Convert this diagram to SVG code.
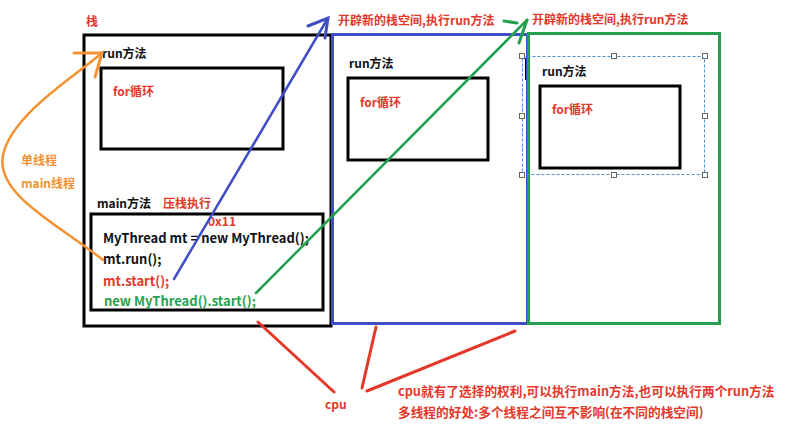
<svg xmlns="http://www.w3.org/2000/svg" width="785" height="426" viewBox="0 0 785 426">
<style>
text{font-family:"Noto Sans CJK SC","Liberation Sans",sans-serif;font-weight:bold;}
.lbl{font-size:12px;fill:#111;}
.code{font-size:13px;fill:#111;}
.red{fill:#e5382b;}
.org{fill:#f39232;}
.grn{fill:#27a350;}
.box{fill:none;stroke:#000;stroke-width:3;}
.h{fill:#fff;stroke:#666;stroke-width:1;}
</style>
<rect width="785" height="426" fill="#fff"/>
<g id="main-stack">
<rect class="box" x="84" y="35" width="247" height="291"/>
<text class="lbl red" x="86" y="26">栈</text>
<text class="lbl" x="102" y="58">run方法</text>
<rect class="box" x="101" y="68" width="182" height="81"/>
<text class="lbl red" x="113" y="96">for循环</text>
<text class="lbl" x="97" y="208">main方法</text>
<text class="lbl red" x="163" y="208">压栈执行</text>
<rect class="box" x="91" y="214" width="232" height="96"/>
<text class="code" x="103" y="243">MyThread mt = new MyThread();</text>
<text class="code" x="103" y="264">mt.run();</text>
<text class="code red" x="103" y="286">mt.start();</text>
<text class="code grn" x="104" y="306">new MyThread().start();</text>
<text class="lbl red" x="208" y="226">0x11</text>
</g>
<g id="blue-stack">
<rect x="332.5" y="34.5" width="195" height="289" fill="none" stroke="#3f4ec4" stroke-width="3"/>
<text class="lbl" x="349" y="68">run方法</text>
<rect class="box" x="348" y="78" width="140" height="82"/>
<text class="lbl red" x="360" y="107">for循环</text>
<text class="lbl red" x="338" y="25">开辟新的栈空间,执行run方法</text>
</g>
<g id="green-stack">
<rect x="528.5" y="33.5" width="191" height="290" fill="none" stroke="#22a04e" stroke-width="3"/>
<rect x="522.5" y="56.5" width="182" height="118" fill="none" stroke="#4f8fcf" stroke-width="1" stroke-dasharray="3,2"/>
<rect class="h" x="519.5" y="53.5" width="5" height="5"/>
<rect class="h" x="611.5" y="53.5" width="5" height="5"/>
<rect class="h" x="702.5" y="53.5" width="5" height="5"/>
<rect class="h" x="519.5" y="113.5" width="5" height="5"/>
<rect class="h" x="702.5" y="113.5" width="5" height="5"/>
<rect class="h" x="519.5" y="172.5" width="5" height="5"/>
<rect class="h" x="611.5" y="172.5" width="5" height="5"/>
<rect class="h" x="702.5" y="172.5" width="5" height="5"/>
<line x1="525.5" y1="58" x2="525.5" y2="80" stroke="#000" stroke-width="1"/>
<text class="lbl" x="542" y="76">run方法</text>
<rect class="box" x="540" y="86" width="140" height="82"/>
<text class="lbl red" x="552" y="114">for循环</text>
<text class="lbl red" x="532" y="24">开辟新的栈空间,执行run方法</text>
</g>
<g id="labels">
<text class="lbl org" x="21" y="165">单线程</text>
<text class="lbl org" x="21" y="188">main线程</text>
<text class="lbl red" x="325" y="409">cpu</text>
<text class="lbl red" style="font-size:12.7px" x="398" y="396">cpu就有了选择的权利,可以执行main方法,也可以执行两个run方法</text>
<text class="lbl red" style="font-size:12.7px" x="398" y="417">多线程的好处:多个线程之间互不影响(在不同的栈空间)</text>
</g>
<g id="connectors" fill="none" stroke-linecap="round">
<path d="M103,260 C60,225 -5,195 3,155 C12,115 70,80 102,53" stroke="#f39232" stroke-width="2.5"/>
<path d="M74,53 L102,53 L95,77" stroke="#f39232" stroke-width="3"/>
<path d="M174,279 L328,18" stroke="#3f4ec4" stroke-width="2.5"/>
<path d="M308,26 L328,18 L325,38" stroke="#3f4ec4" stroke-width="3"/>
<path d="M256,293 L527,20" stroke="#22a04e" stroke-width="2.5"/>
<path d="M504,21 L517,23 M527,20 L519,43" stroke="#22a04e" stroke-width="3"/>
<path d="M258,322 L334,392 M376,327 L362,388 M515,331 L367,391" stroke="#e5382b" stroke-width="3"/>
</g>
</svg>
